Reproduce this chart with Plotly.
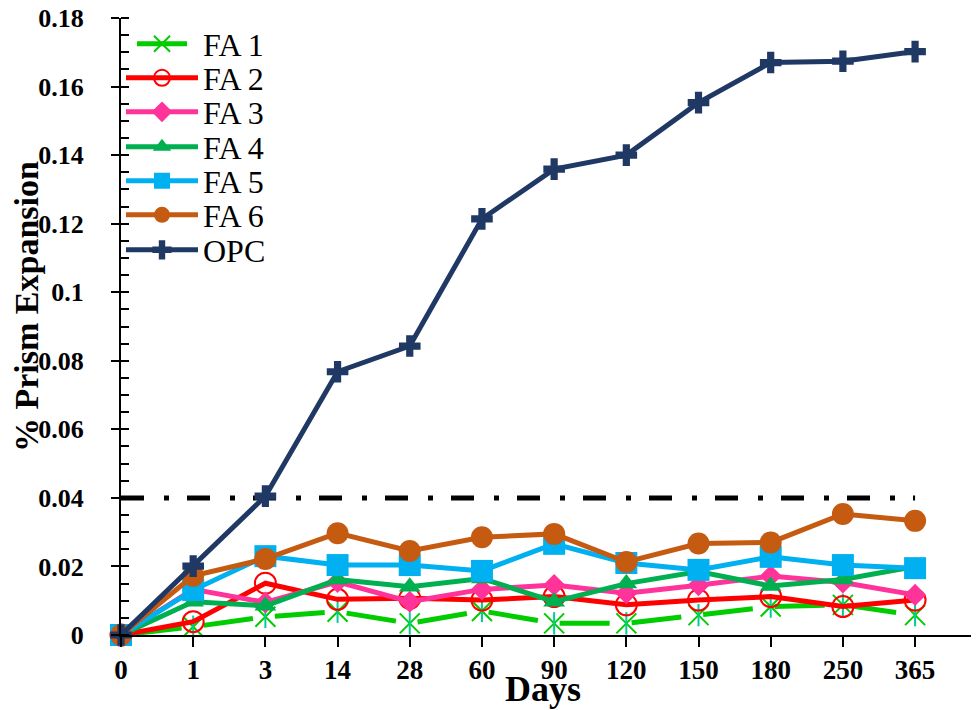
import plotly.graph_objects as go

# ---------------- data ----------------
days = ["0", "1", "3", "14", "28", "60", "90", "120", "150", "180", "250", "365"]
fa1 = [0, 0.0024, 0.0053, 0.0068, 0.0034, 0.0070, 0.0034, 0.0034, 0.0058, 0.0083, 0.0088, 0.0058]
fa2 = [0, 0.0039, 0.0151, 0.0104, 0.0107, 0.0102, 0.0112, 0.0088, 0.0102, 0.0112, 0.0083, 0.0102]
fa3 = [0, 0.0133, 0.0095, 0.0155, 0.0097, 0.0133, 0.0146, 0.0122, 0.0145, 0.0172, 0.0153, 0.0117]
fa4 = [0, 0.0097, 0.0085, 0.0162, 0.0141, 0.0165, 0.0097, 0.0150, 0.0185, 0.0143, 0.0162, 0.0200]
fa5 = [0, 0.0131, 0.0230, 0.0204, 0.0204, 0.0187, 0.0266, 0.0210, 0.0190, 0.0228, 0.0204, 0.0195]
fa6 = [0, 0.0173, 0.0222, 0.0297, 0.0245, 0.0285, 0.0295, 0.0213, 0.0267, 0.0270, 0.0353, 0.0333]
opc = [0, 0.0201, 0.0405, 0.0768, 0.0843, 0.1214, 0.1359, 0.1400, 0.1553, 0.1670, 0.1674, 0.1702]
limit_days = ["0", "365"]
limit_vals = [0.04, 0.04]
y_ticks = [0, 0.02, 0.04, 0.06, 0.08, 0.1, 0.12, 0.14, 0.16, 0.18]

# ---------------- styling ----------------
# the page body has an 8px default margin, so the figure is 8px smaller
OFF = 8
W, H = 979 - OFF, 710 - OFF
ML, MR, MT, MB = 121 - OFF, 4, 18 - OFF, 75
plot_h = H - MT - MB
plot_w = W - ML - MR
serif = "Liberation Serif"


def y_paper(screen_y):
    return (H - MB - (screen_y - OFF)) / plot_h


def x_paper(screen_x):
    return (screen_x - OFF - ML) / plot_w


fig = go.Figure()

# limit line
fig.add_trace(go.Scatter(
    x=limit_days, y=limit_vals, mode="lines",
    line=dict(color="black", width=5, dash="23px,20px,5px,18px"),
    showlegend=False, hoverinfo="skip"))

series = [
    ("FA 1", fa1, "#00CC00", dict(symbol="x-thin-open", size=20, line=dict(width=2, color="#00CC00")), "0px,11px,50px,11px"),
    ("FA 2", fa2, "#FF0000", dict(symbol="circle-open", size=21, line=dict(width=2, color="#FF0000")), "solid"),
    ("FA 3", fa3, "#FF3399", dict(symbol="diamond", size=17, color="#FF3399"), "solid"),
    ("FA 4", fa4, "#00B050", dict(symbol="triangle-up", size=19, color="#00B050"), "solid"),
    ("FA 5", fa5, "#00B0F0", dict(symbol="square", size=22, color="#00B0F0"), "solid"),
    ("FA 6", fa6, "#C55A11", dict(symbol="circle", size=22, color="#C55A11"), "solid"),
    ("OPC", opc, "#1F3864", dict(symbol="cross", size=18, color="#1F3864"), "solid"),
]

legend_centers = [44, 78, 112, 147, 181, 215, 250]

for i, (name, vals, col, mk, dash) in enumerate(series):
    lg = "legend" if i == 0 else f"legend{i+1}"
    fig.add_trace(go.Scatter(
        x=days, y=vals, name=name, mode="lines+markers",
        line=dict(color=col, width=5, dash=dash),
        marker=mk, cliponaxis=False, legend=lg))
    if i == 0:
        fig.add_trace(go.Scatter(
            x=days, y=vals, mode="markers", showlegend=False,
            marker=dict(symbol="line-ns-open", size=16, line=dict(width=2, color=col)),
            cliponaxis=False, hoverinfo="skip"))

legend_common = dict(
    x=0.0, xanchor="left", yanchor="middle",
    bgcolor="rgba(0,0,0,0)", borderwidth=0,
    font=dict(family=serif, size=32, color="black"),
    itemwidth=72,
)
layout_legends = {}
for i, cy in enumerate(legend_centers):
    key = "legend" if i == 0 else f"legend{i+1}"
    layout_legends[key] = dict(legend_common, y=y_paper(cy))

fig.update_layout(
    width=W, height=H,
    margin=dict(l=ML, r=MR, t=MT, b=MB, autoexpand=False),
    paper_bgcolor="white", plot_bgcolor="white",
    showlegend=True,
    **layout_legends,
)

# axis titles
fig.add_annotation(
    text="Days", xref="paper", yref="paper", x=x_paper(543), y=y_paper(689),
    xanchor="center", yanchor="middle", showarrow=False,
    font=dict(family=serif, size=36, color="black", weight="bold"))
fig.add_annotation(
    text="% Prism Expansion", xref="paper", yref="paper", x=x_paper(26), y=y_paper(307),
    xanchor="center", yanchor="middle", showarrow=False, textangle=-90,
    font=dict(family=serif, size=34, color="black", weight="bold"))

fig.update_xaxes(
    type="category", categoryorder="array", categoryarray=days,
    range=[0, 11.83],
    showline=True, linecolor="black", linewidth=2,
    ticks="outside", ticklen=10, tickwidth=2, tickcolor="black",
    showgrid=False, zeroline=False,
    tickfont=dict(family=serif, size=27, color="black", weight="bold"),
    ticklabelstandoff=0, ticklabeloverflow="allow",
)
fig.update_yaxes(
    range=[0, 0.18], tickvals=y_ticks,
    showline=True, linecolor="black", linewidth=2,
    ticks="outside", ticklen=8, tickwidth=2, tickcolor="black",
    minor=dict(ticks="inside", dtick=0.005, ticklen=8, tickwidth=1.5, tickcolor="black"),
    showgrid=False, zeroline=False,
    tickfont=dict(family=serif, size=26, color="black", weight="bold"),
    ticklabelstandoff=22, ticklabeloverflow="allow",
)

fig.write_html("out.html")
